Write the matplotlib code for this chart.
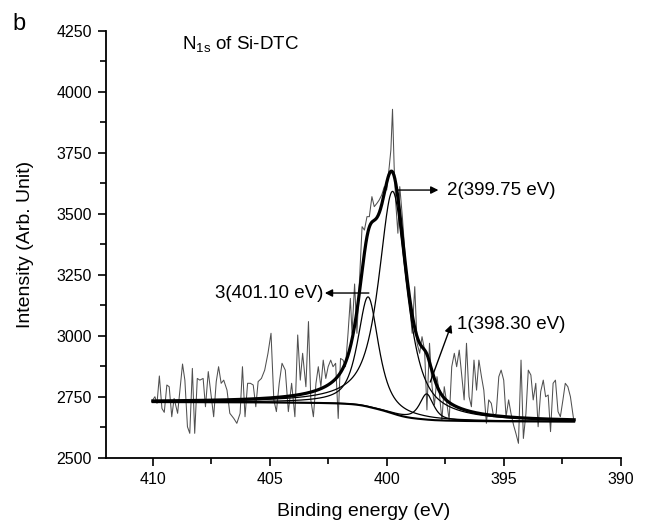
import numpy as np
import matplotlib
matplotlib.use('Agg')
import matplotlib.pyplot as plt
from matplotlib.ticker import MultipleLocator

plt.rcParams['font.family'] = ['Liberation Sans', 'DejaVu Sans']

# ---- raw spectrum ----
raw_energy = [
    410.00, 409.91, 409.82, 409.72, 409.61, 409.51, 409.40, 409.30, 409.19, 409.09,
    408.94, 408.73, 408.63, 408.52, 408.42, 408.31, 408.21, 408.10, 407.99, 407.85,
    407.75, 407.63, 407.52, 407.40, 407.29, 407.19, 407.08, 406.97, 406.83, 406.71,
    406.54, 406.41, 406.27, 406.17, 406.06, 405.95, 405.83, 405.71, 405.60, 405.50,
    405.36, 405.22, 405.08, 404.95, 404.83, 404.72, 404.60, 404.48, 404.34, 404.21,
    404.07, 403.93, 403.81, 403.70, 403.60, 403.46, 403.35, 403.25, 403.14, 403.03,
    402.93, 402.82, 402.72, 402.61, 402.51, 402.40, 402.30, 402.19, 402.08, 401.98,
    401.87, 401.77, 401.66, 401.56, 401.49, 401.38, 401.28, 401.17, 401.06, 400.96,
    400.85, 400.75, 400.64, 400.54, 400.43, 400.33, 400.22, 400.11, 400.01, 399.90,
    399.83, 399.76, 399.69, 399.62, 399.53, 399.45, 399.34, 399.23, 399.13, 399.02,
    398.92, 398.81, 398.71, 398.60, 398.50, 398.39, 398.29, 398.18, 398.07, 397.97,
    397.86, 397.76, 397.65, 397.55, 397.44, 397.34, 397.23, 397.12, 397.02, 396.91,
    396.81, 396.70, 396.60, 396.49, 396.39, 396.28, 396.17, 396.07, 395.96, 395.86,
    395.75, 395.65, 395.54, 395.44, 395.33, 395.22, 395.12, 395.01, 394.91, 394.80,
    394.70, 394.59, 394.49, 394.38, 394.27, 394.17, 394.06, 393.96, 393.85, 393.75,
    393.64, 393.54, 393.43, 393.32, 393.22, 393.11, 393.01, 392.90, 392.80, 392.69,
    392.59, 392.48, 392.38, 392.27, 392.16, 392.02]
raw_intensity = [
    2737, 2750, 2723, 2835, 2702, 2686, 2798, 2791, 2668, 2743,
    2682, 2884, 2818, 2627, 2600, 2866, 2600, 2825, 2818, 2825,
    2709, 2853, 2764, 2668, 2812, 2873, 2805, 2818, 2777, 2682,
    2661, 2641, 2682, 2873, 2668, 2805, 2805, 2798, 2709, 2812,
    2825, 2859, 2928, 3010, 2737, 2689, 2805, 2887, 2859, 2689,
    2805, 2668, 3003, 2818, 2928, 2791, 3058, 2737, 2668, 2805,
    2873, 2791, 2900, 2825, 2873, 2900, 2873, 2887, 2661, 2907,
    2900, 2873, 3010, 3153, 3010, 3212, 3010, 3228, 3447, 3433,
    3488, 3488, 3570, 3529, 3542, 3556, 3577, 3611, 3597, 3693,
    3761, 3928, 3693, 3542, 3420, 3611, 3488, 3338, 3215, 3119,
    3010, 3201, 2969, 2928, 2996, 2941, 2696, 2969, 2791, 2716,
    2832, 2764, 2655, 2791, 2723, 2655, 2873, 2928, 2873, 2941,
    2846, 2737, 2969, 2750, 2709, 2900, 2777, 2900, 2832, 2777,
    2641, 2737, 2723, 2668, 2682, 2832, 2859, 2818, 2668, 2737,
    2682, 2634, 2600, 2559, 2900, 2579, 2682, 2859, 2839, 2737,
    2805, 2627, 2771, 2818, 2750, 2757, 2607, 2805, 2818, 2689,
    2668, 2737, 2805, 2791, 2750, 2655]

# ---- fitted components (parameters) ----
peak_labels = ['1(398.30 eV)', '2(399.75 eV)', '3(401.10 eV)']
peak_centers = [398.30, 399.75, 400.80]
peak_heights = [105, 910, 450]
peak_fwhm = [0.70, 1.42, 1.05]
peak_lorentz = [0.7, 0.8, 0.75]
bg_high = 2728   # background level at 410 eV
bg_low = 2648    # background level at 392 eV
fit_range = [392.0, 410.0]


def pseudo_voigt(e, c, h, w, eta):
    d = (e - c) / w
    return h * (eta / (1 + 4 * d * d) + (1 - eta) * np.exp(-4 * np.log(2) * d * d))


e = np.linspace(fit_range[0], fit_range[1], 1500)
peaks = [pseudo_voigt(e, c, h, w, k) for c, h, w, k in
         zip(peak_centers, peak_heights, peak_fwhm, peak_lorentz)]
total = np.sum(peaks, axis=0)
cum = np.cumsum(total)
cum = (cum - cum[0]) / (cum[-1] - cum[0])
bg = bg_low + (bg_high - bg_low) * cum

fig = plt.figure(figsize=(6.47, 5.26), dpi=100)
ax = fig.add_axes([0.1638, 0.1298, 0.796, 0.8118])

ax.plot(raw_energy, raw_intensity, color='#505050', lw=0.75, zorder=2)
ax.plot(e, bg, color='black', lw=1.5, zorder=3)
for p in peaks:
    ax.plot(e, bg + p, color='black', lw=0.9, zorder=3)
ax.plot(e, bg + total, color='black', lw=2.3, zorder=4)

ax.set_xlim(412, 390)
ax.set_ylim(2500, 4250)
ax.xaxis.set_major_locator(MultipleLocator(5))
ax.xaxis.set_minor_locator(MultipleLocator(2.5))
ax.yaxis.set_major_locator(MultipleLocator(250))
ax.yaxis.set_minor_locator(MultipleLocator(125))
for s in ['top', 'right']:
    ax.spines[s].set_visible(False)
for s in ['left', 'bottom']:
    ax.spines[s].set_linewidth(1.3)
ax.tick_params(which='major', direction='out', length=6, width=1.2, labelsize=11.5, pad=4)
ax.tick_params(which='minor', direction='out', length=4, width=1.2)

ax.set_xlabel('Binding energy (eV)', fontsize=14)
ax.set_ylabel('Intensity (Arb. Unit)', fontsize=14)
ax.xaxis.set_label_coords(0.5, -0.105)
ax.yaxis.set_label_coords(-0.14, 0.5)

ax.text(408.76, 4174, r'N$\mathregular{_{1s}}$ of Si-DTC', fontsize=13.5, va='baseline', ha='left')
fig.text(0.019, 0.975, 'b', fontsize=17, va='top', ha='left')

arrow = dict(arrowstyle='-|>', color='black', lw=1.0, mutation_scale=11, shrinkA=0, shrinkB=0)
# peak 2
ax.annotate('', xy=(397.8, 3597), xytext=(399.55, 3597), arrowprops=arrow)
ax.text(397.45, 3597, peak_labels[1], fontsize=13.5, va='center', ha='left')
# peak 3
ax.annotate('', xy=(402.65, 3175), xytext=(400.77, 3175), arrowprops=arrow)
ax.text(402.7, 3175, peak_labels[2], fontsize=13.5, va='center', ha='right')
# peak 1
ax.annotate('', xy=(397.25, 3045), xytext=(398.15, 2810), arrowprops=arrow)
ax.text(397.0, 3044, peak_labels[0], fontsize=13.5, va='center', ha='left')

fig.savefig('out.png', dpi=100)
